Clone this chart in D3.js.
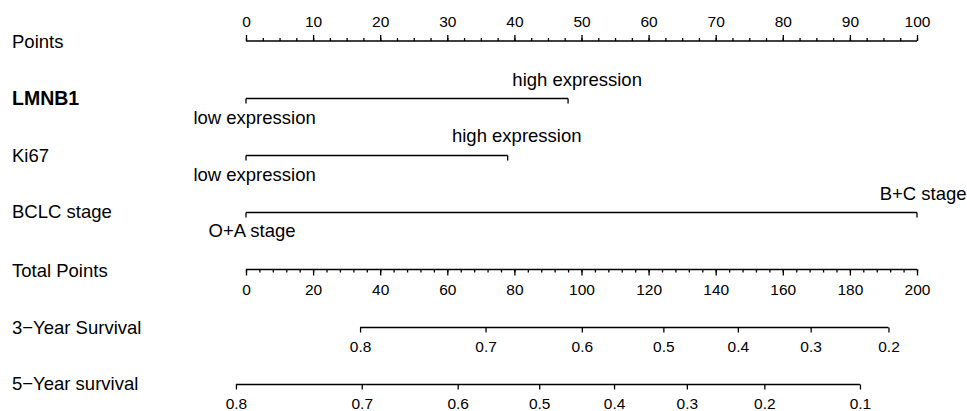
<!DOCTYPE html>
<html lang="en">
<head>
    <meta charset="utf-8">
    <title>Nomogram</title>
    <script src="https://d3js.org/d3.v7.min.js"></script>
    <style>
        body { margin: 0; background: #fff; }
        svg { display: block; font-family: "Liberation Sans", Arial, sans-serif; }
        .row-label { font-size: 18.5px; fill: #000; }
        .tick-label { font-size: 15.5px; fill: #000; }
        .level-label { font-size: 18.5px; fill: #000; }
    </style>
</head>
<body>
    <div id="chart"></div>
    <script>
        // Values
        var pointsTicks = [0, 10, 20, 30, 40, 50, 60, 70, 80, 90, 100];
        var totalTicks = [0, 20, 40, 60, 80, 100, 120, 140, 160, 180, 200];

        var lmnb1Levels = ["low expression", "high expression"];
        var lmnb1Points = [0, 48];
        var ki67Levels = ["low expression", "high expression"];
        var ki67Points = [0, 39];
        var bclcLevels = ["O+A stage", "B+C stage"];
        var bclcPoints = [0, 100];

        var surv3Labels = ["0.8", "0.7", "0.6", "0.5", "0.4", "0.3", "0.2"];
        var surv3Total = [34, 71.4, 100.1, 124.4, 146.6, 168.3, 191.5];
        var surv5Labels = ["0.8", "0.7", "0.6", "0.5", "0.4", "0.3", "0.2", "0.1"];
        var surv5Total = [-3, 34.5, 63.1, 87.4, 109.7, 131.4, 154.5, 183];

        var width = 967, height = 411;
        var svg = d3.select("#chart").append("svg")
            .attr("width", width)
            .attr("height", height);

        var xPoints = d3.scaleLinear().domain([0, 100]).range([246, 917]);
        var xTotal = d3.scaleLinear().domain([0, 200]).range([246, 917]);

        var lineColor = "#000";
        var sw = 1.3;

        // Left labels
        var rows = [
            { name: "Points", y: 48, bold: false },
            { name: "LMNB1", y: 105, bold: true },
            { name: "Ki67", y: 162, bold: false },
            { name: "BCLC stage", y: 218, bold: false },
            { name: "Total Points", y: 276.5, bold: false },
            { name: "3\u2212Year Survival", y: 333.5, bold: false },
            { name: "5\u2212Year survival", y: 390, bold: false }
        ];
        svg.selectAll(".row-label")
            .data(rows)
            .enter().append("text")
            .attr("class", "row-label")
            .attr("x", 12)
            .attr("y", d => d.y)
            .style("font-weight", d => d.bold ? "bold" : "normal")
            .style("font-size", d => d.bold ? "19.5px" : null)
            .text(d => d.name);

        // Points axis (ticks up, labels above)
        var gPts = svg.append("g").attr("transform", "translate(0,41)");
        gPts.append("g")
            .call(d3.axisTop(xPoints).tickValues(d3.range(0, 100.1, 2.5)).tickSize(3).tickFormat(""))
            .call(g => g.select(".domain").remove());
        gPts.append("g")
            .call(d3.axisTop(xPoints).tickValues(pointsTicks).tickSize(6).tickPadding(8))
            .call(g => g.selectAll("text").attr("class", "tick-label").attr("font-size", null).attr("font-family", null));
        gPts.selectAll("line, path").attr("stroke", lineColor).attr("stroke-width", sw);
        gPts.selectAll(".domain").attr("d", "M" + xPoints(0) + ",0H" + xPoints(100));

        // Categorical variables: line with end ticks going down, labels alternate
        function drawVariable(levels, pts, y, aboveY, belowY) {
            var g = svg.append("g");
            g.append("line")
                .attr("x1", xPoints(pts[0])).attr("x2", xPoints(pts[pts.length - 1]))
                .attr("y1", y).attr("y2", y)
                .attr("stroke", lineColor).attr("stroke-width", sw);
            g.selectAll(".vt").data(pts).enter().append("line")
                .attr("x1", d => xPoints(d)).attr("x2", d => xPoints(d))
                .attr("y1", y).attr("y2", y + 5)
                .attr("stroke", lineColor).attr("stroke-width", sw);
            g.selectAll(".level-label").data(levels).enter().append("text")
                .attr("class", "level-label")
                .attr("text-anchor", "middle")
                .attr("x", (d, i) => xPoints(pts[i]))
                .attr("y", (d, i) => i % 2 === 0 ? belowY : aboveY)
                .text(d => d)
                .attr("dx", function() { return this.getComputedTextLength() * 0.07; });
        }
        drawVariable(lmnb1Levels, lmnb1Points, 98.5, 86, 124);
        drawVariable(ki67Levels, ki67Points, 155.5, 141.5, 181);
        drawVariable(bclcLevels, bclcPoints, 212.5, 200, 237);

        // Total points axis (ticks down, labels below)
        var gTot = svg.append("g").attr("transform", "translate(0,269.5)");
        gTot.append("g")
            .call(d3.axisBottom(xTotal).tickValues(d3.range(0, 200.1, 4)).tickSize(3).tickFormat(""))
            .call(g => g.select(".domain").remove());
        gTot.append("g")
            .call(d3.axisBottom(xTotal).tickValues(totalTicks).tickSize(6).tickPadding(8.5))
            .call(g => g.selectAll("text").attr("class", "tick-label").attr("font-size", null).attr("font-family", null));
        gTot.selectAll("line, path").attr("stroke", lineColor).attr("stroke-width", sw);
        gTot.selectAll(".domain").attr("d", "M" + xTotal(0) + ",0H" + xTotal(200));

        // Survival axes
        function drawSurvival(labels, totals, y) {
            var g = svg.append("g").attr("transform", "translate(0," + y + ")");
            g.call(d3.axisBottom(xTotal).tickValues(totals).tickSize(5).tickPadding(8.5)
                .tickFormat((d, i) => labels[i]));
            g.selectAll("text").attr("class", "tick-label").attr("font-size", null).attr("font-family", null);
            g.selectAll("line, path").attr("stroke", lineColor).attr("stroke-width", sw);
            g.select(".domain").attr("d", "M" + xTotal(d3.min(totals)) + ",0H" + xTotal(d3.max(totals)));
        }
        drawSurvival(surv3Labels, surv3Total, 327.5);
        drawSurvival(surv5Labels, surv5Total, 384.5);
    </script>
</body>
</html>
